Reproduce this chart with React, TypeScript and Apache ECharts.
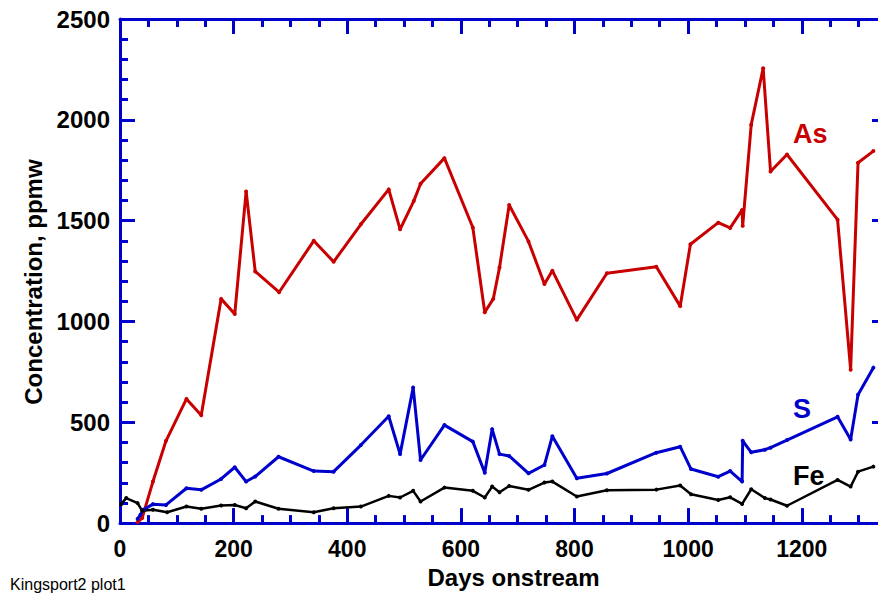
import React, { useEffect, useRef } from "react";
import * as echarts from "echarts";

// ---- Data ----
const AS_DAYS = [31, 39, 58, 81, 117, 143, 178, 202, 222, 238, 280, 341, 376, 424, 473, 493, 517, 529, 571, 621, 642, 657, 668, 685, 719, 747, 761, 804, 857, 944, 986, 1004, 1053, 1074, 1095, 1096, 1111, 1132, 1145, 1174, 1263, 1286, 1299, 1326];
const AS_VALUES = [5, 25, 206, 408, 616, 535, 1112, 1037, 1645, 1248, 1145, 1400, 1296, 1482, 1655, 1457, 1597, 1683, 1810, 1466, 1046, 1112, 1268, 1578, 1397, 1186, 1252, 1008, 1239, 1271, 1076, 1383, 1490, 1464, 1553, 1474, 1976, 2256, 1744, 1828, 1505, 761, 1787, 1845];

const S_DAYS = [31, 36, 41, 58, 81, 117, 143, 178, 202, 222, 238, 279, 341, 376, 424, 473, 493, 516, 529, 571, 621, 642, 655, 668, 685, 719, 747, 761, 804, 857, 944, 986, 1005, 1053, 1074, 1095, 1096, 1111, 1135, 1145, 1174, 1263, 1286, 1299, 1326];
const S_VALUES = [21, 41, 66, 94, 90, 173, 165, 219, 277, 206, 231, 329, 258, 255, 387, 530, 342, 672, 313, 486, 404, 250, 466, 342, 333, 247, 288, 431, 222, 246, 349, 379, 268, 230, 258, 206, 408, 351, 364, 374, 412, 527, 415, 637, 771];

const FE_DAYS = [2, 11, 31, 39, 58, 83, 117, 143, 178, 202, 222, 238, 279, 341, 376, 424, 473, 493, 516, 529, 571, 621, 642, 655, 668, 685, 719, 747, 761, 804, 857, 944, 986, 1005, 1053, 1074, 1095, 1111, 1135, 1145, 1174, 1263, 1286, 1299, 1326];
const FE_VALUES = [94, 124, 99, 61, 66, 54, 82, 71, 87, 90, 74, 107, 71, 54, 74, 82, 135, 127, 160, 107, 176, 160, 127, 181, 153, 184, 165, 201, 206, 132, 163, 166, 186, 143, 115, 128, 95, 168, 124, 117, 86, 214, 181, 255, 280];

const X_MIN = 0;
const X_MAX = 1350;
const X_MAJOR = 200;
const X_MINOR = 50;
const Y_MIN = 0;
const Y_MAX = 2500;
const Y_MAJOR = 500;

const X_TITLE = "Days onstream";
const Y_TITLE = "Concentration, ppmw";
const FOOTNOTE = "Kingsport2 plot1";
const SERIES_NAMES = ["As", "S", "Fe"];

const BLUE = "#0000cc";
const RED = "#c80000";
const BLACK = "#000000";
const FONT = "'Liberation Sans', Arial, Helvetica, sans-serif";

export default function App() {
  const ref = useRef<HTMLDivElement>(null);

  useEffect(() => {
    if (!ref.current) return;
    const chart = echarts.init(ref.current, null, { renderer: "svg" });

    const axisLine = { show: true, onZero: false, lineStyle: { color: BLUE, width: 3 } };
    const majorTick = { show: true, inside: true, length: 15, lineStyle: { color: BLUE, width: 3 } };
    const minorTickAsMajor = { show: true, inside: true, length: 8, lineStyle: { color: BLUE, width: 3 } };

    const pairs = (xs: number[], ys: number[]) => xs.map((x, i) => [x, ys[i]]);

    const option: any = {
      animation: false,
      backgroundColor: "#ffffff",
      grid: { left: 120, right: 13, top: 19, bottom: 69, containLabel: false },
      xAxis: [
        {
          type: "value",
          position: "bottom",
          min: X_MIN,
          max: X_MAX,
          interval: X_MAJOR,
          axisLine,
          axisTick: majorTick,
          axisLabel: {
            fontSize: 23,
            fontWeight: "bold",
            color: "#000",
            fontFamily: FONT,
            margin: 14,
            showMaxLabel: false,
            formatter: (v: number) => (v % X_MAJOR === 0 ? String(v) : ""),
          },
          splitLine: { show: false },
          name: X_TITLE,
          nameLocation: "middle",
          nameGap: 41,
          nameTextStyle: { fontSize: 24, fontWeight: "bold", color: "#000", fontFamily: FONT, padding: [0, 0, 0, 20] },
        },
        {
          type: "value",
          position: "bottom",
          min: X_MIN,
          max: X_MAX,
          interval: X_MINOR,
          axisLine: { show: false, onZero: false },
          axisTick: minorTickAsMajor,
          axisLabel: { show: false },
          splitLine: { show: false },
        },
        {
          type: "value",
          position: "top",
          min: X_MIN,
          max: X_MAX,
          interval: X_MAJOR,
          axisLine,
          axisTick: majorTick,
          axisLabel: { show: false },
          splitLine: { show: false },
        },
        {
          type: "value",
          position: "top",
          min: X_MIN,
          max: X_MAX,
          interval: X_MINOR,
          axisLine: { show: false, onZero: false },
          axisTick: minorTickAsMajor,
          axisLabel: { show: false },
          splitLine: { show: false },
        },
      ],
      yAxis: [
        {
          type: "value",
          position: "left",
          min: Y_MIN,
          max: Y_MAX,
          interval: Y_MAJOR,
          axisLine,
          axisTick: majorTick,
          minorTick: { show: true, splitNumber: 5, length: 8, lineStyle: { color: BLUE, width: 3 } },
          axisLabel: {
            fontSize: 24,
            fontWeight: "bold",
            color: "#000",
            fontFamily: FONT,
            margin: 10,
            formatter: (v: number) => String(v),
          },
          splitLine: { show: false },
          minorSplitLine: { show: false },
          name: Y_TITLE,
          nameLocation: "middle",
          nameGap: 73,
          nameTextStyle: { fontSize: 24, fontWeight: "bold", color: "#000", fontFamily: FONT, padding: [0, 22, 0, 0] },
        },
        {
          type: "value",
          position: "right",
          min: Y_MIN,
          max: Y_MAX,
          interval: Y_MAJOR,
          axisLine,
          axisTick: majorTick,
          minorTick: { show: true, splitNumber: 5, length: 8, lineStyle: { color: BLUE, width: 3 } },
          axisLabel: { show: false },
          splitLine: { show: false },
          minorSplitLine: { show: false },
        },
      ],
      series: [
        {
          name: SERIES_NAMES[0],
          type: "line",
          xAxisIndex: 0,
          yAxisIndex: 0,
          data: pairs(AS_DAYS, AS_VALUES),
          symbol: "circle",
          symbolSize: 4,
          showSymbol: true,
          lineStyle: { color: RED, width: 3 },
          itemStyle: { color: RED },
          z: 3,
        },
        {
          name: SERIES_NAMES[1],
          type: "line",
          xAxisIndex: 0,
          yAxisIndex: 0,
          data: pairs(S_DAYS, S_VALUES),
          symbol: "circle",
          symbolSize: 4,
          showSymbol: true,
          lineStyle: { color: BLUE, width: 3 },
          itemStyle: { color: BLUE },
          z: 3,
        },
        {
          name: SERIES_NAMES[2],
          type: "line",
          xAxisIndex: 0,
          yAxisIndex: 0,
          data: pairs(FE_DAYS, FE_VALUES),
          symbol: "circle",
          symbolSize: 4,
          showSymbol: true,
          lineStyle: { color: BLACK, width: 2.5 },
          itemStyle: { color: BLACK },
          z: 3,
        },
      ],
      graphic: [
        {
          type: "text",
          x: 793,
          y: 134,
          style: { text: SERIES_NAMES[0], fill: RED, font: `bold 27px ${FONT}`, verticalAlign: "middle", align: "left" },
        },
        {
          type: "text",
          x: 793,
          y: 409,
          style: { text: SERIES_NAMES[1], fill: BLUE, font: `bold 27px ${FONT}`, verticalAlign: "middle", align: "left" },
        },
        {
          type: "text",
          x: 793,
          y: 476,
          style: { text: SERIES_NAMES[2], fill: BLACK, font: `bold 27px ${FONT}`, verticalAlign: "middle", align: "left" },
        },
        {
          type: "text",
          x: 10,
          y: 584,
          style: { text: FOOTNOTE, fill: "#000", font: `16px ${FONT}`, verticalAlign: "middle", align: "left" },
        },
      ],
    };

    chart.setOption(option);
    return () => chart.dispose();
  }, []);

  return (
    <div
      style={{
        position: "fixed",
        left: 0,
        top: 0,
        width: 878,
        height: 594,
        overflow: "hidden",
        background: "#ffffff",
      }}
    >
      <div ref={ref} style={{ width: 900, height: 594 }} />
    </div>
  );
}
